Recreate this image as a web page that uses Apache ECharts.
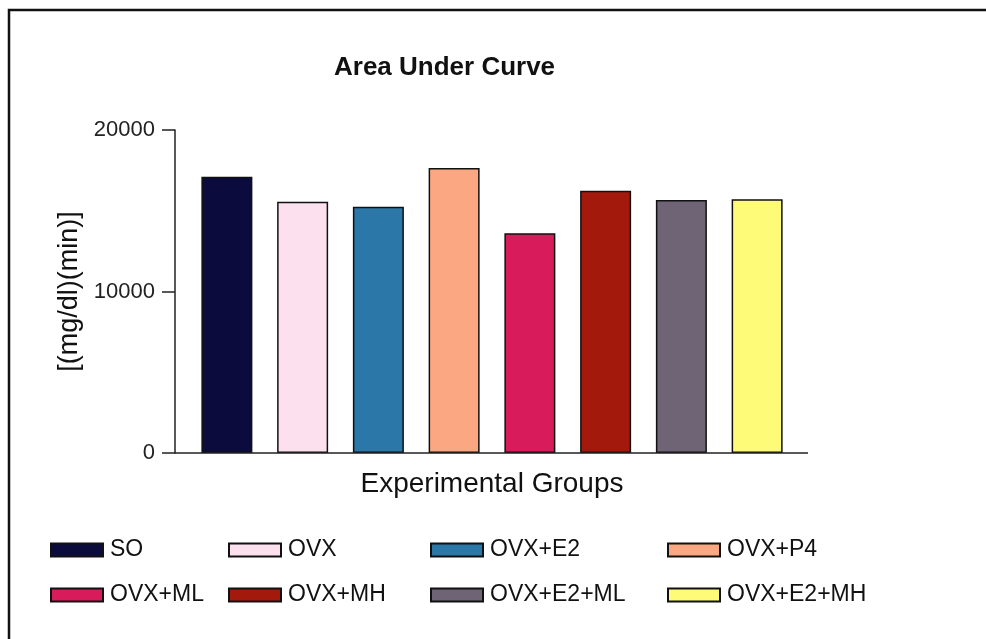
<!DOCTYPE html>
<html>
<head>
<meta charset="utf-8">
<script src="https://cdn.jsdelivr.net/npm/echarts@6/dist/echarts.min.js"></script>
<style>html,body{margin:0;padding:0;background:#fff}#c{width:986px;height:639px}</style>
</head>
<body>
<div id="c"></div>
<script>
const categories = ['SO','OVX','OVX+E2','OVX+P4','OVX+ML','OVX+MH','OVX+E2+ML','OVX+E2+MH'];
const values = [17100, 15550, 15250, 17650, 13600, 16240, 15670, 15710];
const colors = ['#0b0b3e','#fde0ee','#2a77a8','#fba882','#d81b5a','#a31a0c','#6e6475','#fdfb78'];
const yTicks = [0, 10000, 20000];
const legendColumns = [['SO','OVX+ML'],['OVX','OVX+MH'],['OVX+E2','OVX+E2+ML'],['OVX+P4','OVX+E2+MH']];

const FONT = "'Liberation Sans', Arial, sans-serif";
const gridLeft = 189, gridRight = 191, gridTop = 130, gridBottom = 186;
const chart = echarts.init(document.getElementById('c'));

const series = categories.map((name, i) => ({
  name: name,
  type: 'bar',
  stack: 'all',
  barWidth: 51,
  data: categories.map((c, j) => j === i ? values[i] : '-'),
  itemStyle: { color: colors[i], borderColor: '#111', borderWidth: 1.5 },
  emphasis: { disabled: true }
}));

const legendLefts = [50, 228, 430, 667];
const legends = legendColumns.map((col, k) => ({
  orient: 'vertical',
  left: legendLefts[k],
  top: 538,
  padding: 0,
  itemGap: 21,
  itemWidth: 52,
  itemHeight: 13,
  selectedMode: false,
  data: col.map(n => ({ name: n, icon: 'rect', itemStyle: { borderWidth: 2 } })),
  textStyle: { fontFamily: FONT, fontSize: 23, color: '#111', lineHeight: 24, padding: [0,0,0,2] }
}));

chart.setOption({
  animation: false,
  backgroundColor: '#fff',
  title: {
    text: 'Area Under Curve',
    left: 334, top: 55, padding: 0,
    textStyle: { fontFamily: FONT, fontSize: 26, fontWeight: 'bold', color: '#111' }
  },
  legend: legends,
  grid: { left: gridLeft, right: gridRight, top: gridTop, bottom: gridBottom, containLabel: false },
  xAxis: {
    type: 'category',
    data: categories,
    name: 'Experimental Groups',
    nameLocation: 'middle',
    nameGap: 17,
    nameTextStyle: { fontFamily: FONT, fontSize: 28, color: '#111', verticalAlign: 'top' },
    axisLine: { show: false },
    axisTick: { show: false },
    axisLabel: { show: false }
  },
  yAxis: {
    type: 'value',
    min: yTicks[0], max: yTicks[yTicks.length - 1], interval: 10000,
    offset: 14,
    name: '[(mg/dl)(min)]',
    nameLocation: 'middle',
    nameGap: 88,
    nameTextStyle: { fontFamily: FONT, fontSize: 27, color: '#111' },
    axisLine: { show: true, lineStyle: { color: '#222', width: 1.5 } },
    axisTick: { show: true, length: 13, lineStyle: { color: '#222', width: 1.5 } },
    axisLabel: { fontFamily: FONT, fontSize: 22, color: '#222', margin: 20, formatter: v => String(v) },
    splitLine: { show: false }
  },
  series: series
});

const y0 = chart.convertToPixel({ yAxisIndex: 0 }, 0);
chart.setOption({
  graphic: [
    { type: 'line', shape: { x1: gridLeft - 14, y1: y0, x2: 986 - gridRight + 13, y2: y0 },
      style: { stroke: '#222', lineWidth: 1.5 }, z: 10 },
    { type: 'rect', shape: { x: 9, y: 10, width: 1000, height: 700 },
      style: { fill: null, stroke: '#111', lineWidth: 2.5 }, z: 10 }
  ]
});
</script>
</body>
</html>
